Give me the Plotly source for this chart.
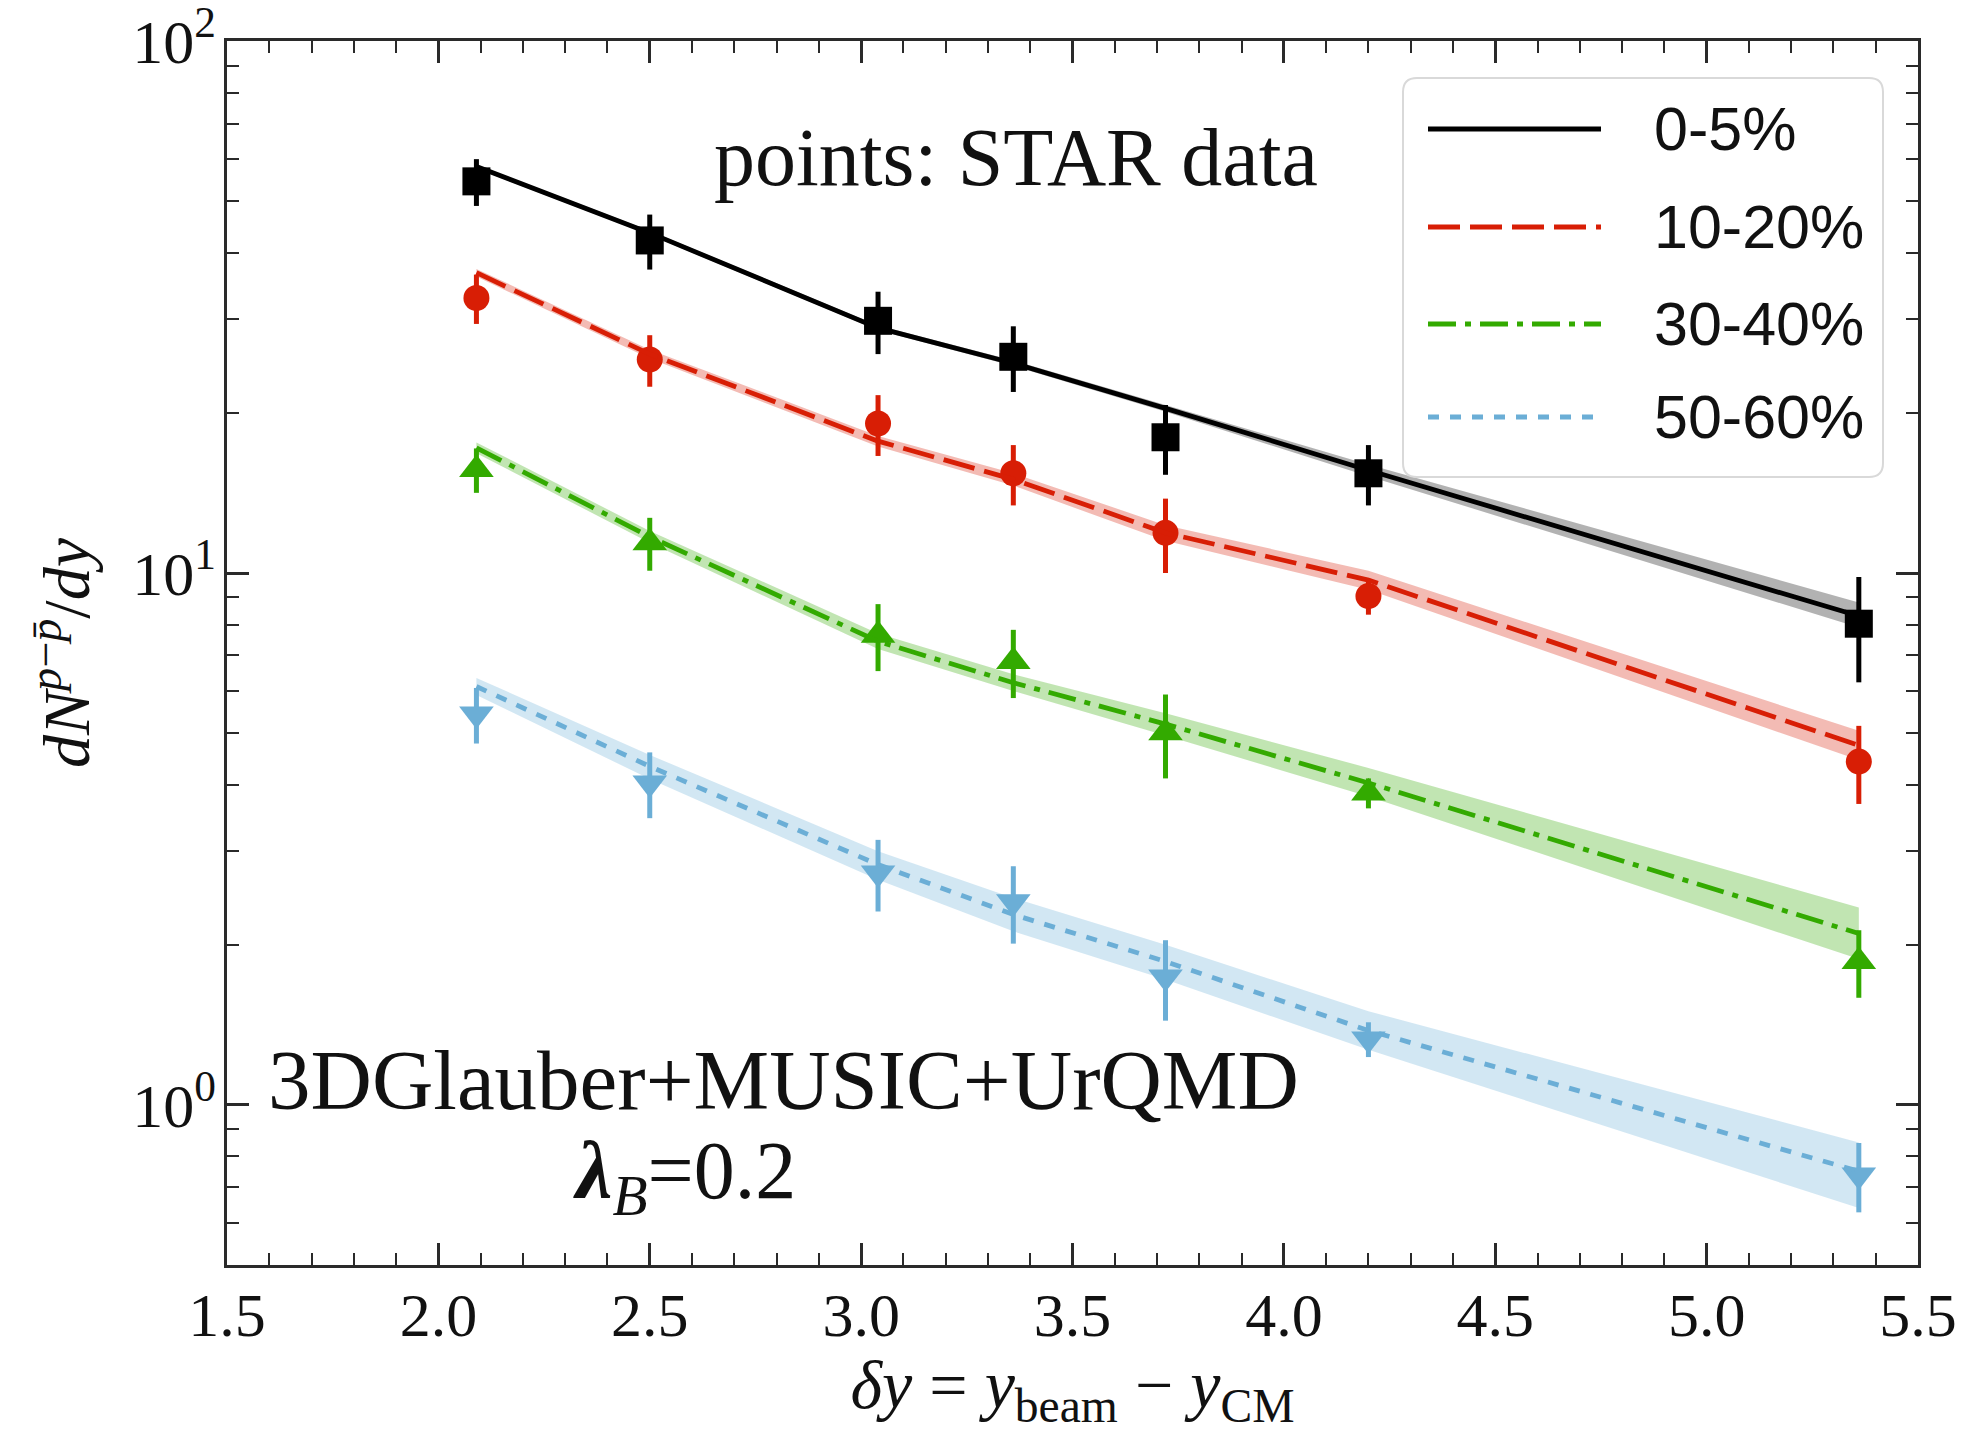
import plotly.graph_objects as go

# ---------------- data ----------------
dy = [2.09, 2.50, 3.04, 3.36, 3.72, 4.20, 5.36]
labels = ["0-5%", "10-20%", "30-40%", "50-60%"]

# STAR data points and errors
data_0_5 = [54.5, 42.2, 29.8, 25.5, 18.0, 15.4, 8.03]
err_0_5 = [5.5, 5.0, 4.0, 3.6, 2.7, 2.0, 1.8]
data_10_20 = [32.9, 25.2, 19.1, 15.4, 11.9, 9.05, 4.42]
err_10_20 = [3.5, 2.8, 2.5, 2.0, 1.9, 0.7, 0.74]
data_30_40 = [15.65, 11.4, 7.64, 6.82, 5.01, 3.86, 1.86]
err_30_40 = [1.5, 1.3, 1.1, 1.0, 0.9, 0.25, 0.27]
data_50_60 = [5.43, 4.03, 2.73, 2.41, 1.74, 1.33, 0.738]
err_50_60 = [0.65, 0.57, 0.42, 0.40, 0.30, 0.10, 0.11]

# model curves (central) and bands
model_0_5 = [58.1, 43.6, 28.9, 24.8, 20.4, 15.6, 8.3]
model_0_5_hi = [58.6, 44.0, 29.2, 25.1, 20.7, 16.0, 8.8]
model_0_5_lo = [57.6, 43.2, 28.6, 24.5, 20.1, 15.2, 7.9]
model_10_20 = [36.7, 25.8, 17.7, 15.0, 11.9, 9.7, 4.74]
model_10_20_hi = [37.3, 26.3, 18.1, 15.4, 12.3, 10.1, 5.05]
model_10_20_lo = [36.1, 25.3, 17.3, 14.6, 11.5, 9.3, 4.45]
model_30_40 = [17.2, 11.7, 7.44, 6.22, 5.2, 4.03, 2.10]
model_30_40_hi = [17.6, 12.0, 7.7, 6.45, 5.45, 4.3, 2.35]
model_30_40_lo = [16.8, 11.4, 7.2, 6.0, 4.95, 3.8, 1.88]
model_50_60 = [6.12, 4.33, 2.83, 2.28, 1.86, 1.38, 0.75]
model_50_60_hi = [6.35, 4.55, 3.0, 2.45, 2.0, 1.5, 0.85]
model_50_60_lo = [5.9, 4.1, 2.65, 2.12, 1.72, 1.27, 0.64]

x_ticks = [1.5, 2.0, 2.5, 3.0, 3.5, 4.0, 4.5, 5.0, 5.5]
y_ticks = [1, 10, 100]
y_ticktext = ["10<sup>0</sup>", "10<sup>1</sup>", "10<sup>2</sup>"]

# ---------------- styling ----------------
colors = ["#000000", "#d81e05", "#33aa00", "#6baed6"]
band_colors = ["rgba(0,0,0,0.30)", "rgba(216,30,5,0.30)",
               "rgba(51,170,0,0.30)", "rgba(107,174,214,0.30)"]
dashes = ["solid", "32px,10px", "28px,9px,6px,9px", "11px,11px"]
symbols = ["square", "circle", "triangle-up", "triangle-down"]
msizes = [28, 26, 30, 30]

datas = [data_0_5, data_10_20, data_30_40, data_50_60]
errs = [err_0_5, err_10_20, err_30_40, err_50_60]
models = [model_0_5, model_10_20, model_30_40, model_50_60]
his = [model_0_5_hi, model_10_20_hi, model_30_40_hi, model_50_60_hi]
los = [model_0_5_lo, model_10_20_lo, model_30_40_lo, model_50_60_lo]

fig = go.Figure()

for i in range(4):
    fig.add_trace(go.Scatter(x=dy, y=los[i], mode="lines", line=dict(width=0),
                             showlegend=False, hoverinfo="skip"))
    fig.add_trace(go.Scatter(x=dy, y=his[i], mode="lines", line=dict(width=0),
                             fill="tonexty", fillcolor=band_colors[i],
                             showlegend=False, hoverinfo="skip"))

for i in range(4):
    fig.add_trace(go.Scatter(
        x=dy, y=datas[i], mode="markers",
        marker=dict(symbol=symbols[i], size=msizes[i], color=colors[i],
                    line=dict(width=0)),
        error_y=dict(type="data", array=errs[i], visible=True,
                     color=colors[i], thickness=5, width=0),
        showlegend=False))

for i in range(4):
    fig.add_trace(go.Scatter(
        x=dy, y=models[i], mode="lines",
        line=dict(color=colors[i], width=4.8, dash=dashes[i]),
        name=labels[i], showlegend=False))

# ---------------- layout geometry ----------------
W, H = 1968, 1432
L, R, T, B = 227, 1918, 41, 1265
PW, PH = R - L, B - T


def px(X):
    return (X - L) / PW


def py(Y):
    return (B - Y) / PH


axis_color = "#2a2a2a"
serif = "Liberation Serif, Times New Roman, serif"
tick_font = dict(family=serif, size=62, color="#111")

fig.update_xaxes(
    range=[1.5, 5.5], tickmode="array", tickvals=x_ticks,
    ticktext=[f"{v:.1f}" for v in x_ticks],
    ticks="inside", ticklen=22, tickwidth=2.5, tickcolor=axis_color,
    minor=dict(ticks="inside", dtick=0.1, ticklen=12, tickwidth=2, tickcolor=axis_color),
    showline=True, linecolor=axis_color, linewidth=2.5, mirror="allticks",
    showgrid=False, zeroline=False, tickfont=tick_font, ticklabelstandoff=-6,
    ticklabeloverflow="allow",
    title=dict(text="<i>δy</i> = <i>y</i><sub>beam</sub> − <i>y</i><sub>CM</sub>",
               font=dict(family=serif, size=68, color="#111"),
               standoff=36),
)

minor_y = [0.5, 0.6, 0.7, 0.8, 0.9, 2, 3, 4, 5, 6, 7, 8, 9,
           20, 30, 40, 50, 60, 70, 80, 90]
fig.update_yaxes(
    type="log", range=[-0.30103, 2.0003], tickmode="array", tickvals=y_ticks,
    ticktext=y_ticktext,
    ticks="inside", ticklen=22, tickwidth=2.5, tickcolor=axis_color,
    minor=dict(ticks="inside", tickmode="array", tickvals=minor_y, ticklen=12,
               tickwidth=2, tickcolor=axis_color),
    showline=True, linecolor=axis_color, linewidth=2.5, mirror="allticks",
    showgrid=False, zeroline=False, tickfont=tick_font, ticklabelstandoff=-4,
    ticklabeloverflow="allow",
    title=dict(text="<i>dN</i><sup><i>p</i>−<i>p̄</i></sup>/<i>dy</i>",
               font=dict(family=serif, size=66, color="#111"),
               standoff=22),
)

# ---------------- manual legend ----------------
lx0, lx1, ly0, ly1 = 1403, 1883, 78, 477
r = 14
rx, ry = r / PW, r / PH
X0, X1, Y0, Y1 = px(lx0), px(lx1), py(ly1), py(ly0)
path = (f"M {X0+rx},{Y0} L {X1-rx},{Y0} Q {X1},{Y0} {X1},{Y0+ry} "
        f"L {X1},{Y1-ry} Q {X1},{Y1} {X1-rx},{Y1} L {X0+rx},{Y1} "
        f"Q {X0},{Y1} {X0},{Y1-ry} L {X0},{Y0+ry} Q {X0},{Y0} {X0+rx},{Y0} Z")
shapes = [dict(type="path", xref="paper", yref="paper", path=path,
               fillcolor="rgba(255,255,255,0.85)", line=dict(color="#d9d9d9", width=2),
               layer="above")]

entry_y = [129, 227, 324, 417]
annotations = []
for i in range(4):
    shapes.append(dict(type="line", xref="paper", yref="paper",
                       x0=px(1428), x1=px(1601), y0=py(entry_y[i]), y1=py(entry_y[i]),
                       line=dict(color=colors[i], width=5, dash=dashes[i]), layer="above"))
    annotations.append(dict(x=px(1652), y=py(entry_y[i]), xref="paper", yref="paper",
                            text=labels[i], showarrow=False, xanchor="left", yanchor="middle",
                            font=dict(family="Liberation Sans Narrow, Arial Narrow, Liberation Sans, sans-serif",
                                      size=61, color="#111")))

annotations.append(dict(x=px(1016), y=py(157), xref="paper", yref="paper",
                        text="points: STAR data", showarrow=False, xanchor="center", yanchor="middle",
                        font=dict(family=serif, size=82, color="#111")))
annotations.append(dict(x=px(783), y=py(1080), xref="paper", yref="paper",
                        text="3DGlauber+MUSIC+UrQMD", showarrow=False, xanchor="center", yanchor="middle",
                        font=dict(family=serif, size=85, color="#111")))
annotations.append(dict(x=px(684), y=py(1176), xref="paper", yref="paper",
                        text="<i><b>λ</b></i><sub><i>B</i></sub>=0.2", showarrow=False,
                        xanchor="center", yanchor="middle",
                        font=dict(family=serif, size=82, color="#111")))

fig.update_layout(
    width=W, height=H,
    margin=dict(l=L, r=W - R, t=T, b=H - B, autoexpand=False),
    paper_bgcolor="white", plot_bgcolor="white",
    shapes=shapes, annotations=annotations, showlegend=False,
)

fig.write_html("out.html")
